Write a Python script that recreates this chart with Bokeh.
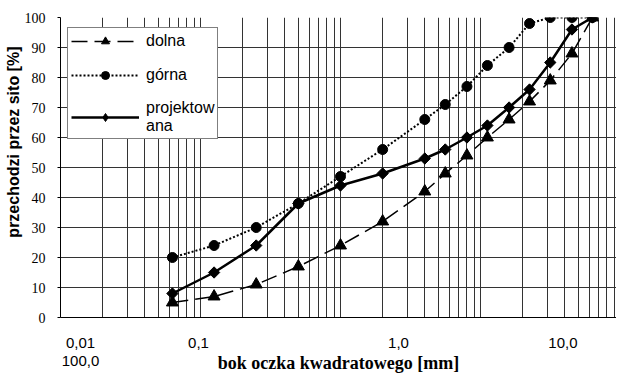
import math
from bokeh.plotting import figure
from bokeh.models import FixedTicker, Legend, LegendItem, Title
from bokeh.embed import file_html
from bokeh.resources import INLINE

# ---- data -------------------------------------------------------------
sieve = [0.063, 0.125, 0.25, 0.5, 1.0, 2.0, 4.0, 5.6, 8.0, 11.2, 16.0, 22.4, 31.5, 45.0, 63.0]
dolna = [5, 7, 11, 17, 24, 32, 42, 48, 54, 60, 66, 72, 79, 88, 100]
gorna = [20, 24, 30, 38, 47, 56, 66, 71, 77, 84, 90, 98, 100, 100, 100]
projektowana = [8, 15, 24, 38, 44, 48, 53, 56, 60, 64, 70, 76, 85, 96, 100]

x_tick_pos = [0.0139, 0.0968, 2.596, 38.8]
x_tick_labels = ["0,01\n100,0", "0,1", "1,0", "10,0"]
y_ticks = [0, 10, 20, 30, 40, 50, 60, 70, 80, 90, 100]

x_title = "bok oczka kwadratowego [mm]"
y_title = "przechodzi przez sito [%]"

# ---- figure -----------------------------------------------------------
p = figure(width=616, height=376, x_axis_type="log", x_range=(0.01, 93.63), y_range=(0, 100),
           output_backend="svg", toolbar_location=None,
           min_border_left=60, min_border_right=0, min_border_top=17, min_border_bottom=59)
p.outline_line_color = None
p.background_fill_color = "white"
p.border_fill_color = "white"

grid_x = [k * 10.0 ** e for e in range(-2, 2) for k in range(1, 10)]
p.xgrid.ticker = FixedTicker(ticks=grid_x)
p.ygrid.ticker = FixedTicker(ticks=y_ticks)
for g in (p.xgrid, p.ygrid):
    g.grid_line_color = "#333333"
    g.grid_line_width = 1
    g.grid_line_alpha = 1

p.xaxis.ticker = FixedTicker(ticks=x_tick_pos)
p.xaxis.major_label_overrides = dict(zip(x_tick_pos, x_tick_labels))
p.xaxis.major_tick_out = 0
p.xaxis.major_tick_in = 0
p.xaxis.minor_tick_line_color = None
p.xaxis.major_label_standoff = 16
p.xaxis.major_label_text_font = "Liberation Sans"
p.xaxis.major_label_text_font_size = "15px"
p.xaxis.major_label_text_line_height = 1.1
p.xaxis.major_label_text_color = "black"
p.xaxis.axis_line_color = "black"
p.xaxis.axis_label = x_title
p.xaxis.axis_label_standoff = -19
p.xaxis.axis_label_text_font = "Liberation Serif"
p.xaxis.axis_label_text_font_size = "18px"
p.xaxis.axis_label_text_line_height = 0.9
p.xaxis.axis_label_text_font_style = "bold"
p.xaxis.axis_label_text_color = "black"

p.yaxis.ticker = FixedTicker(ticks=y_ticks)
p.yaxis.major_tick_out = 3
p.yaxis.major_tick_in = 0
p.yaxis.minor_tick_line_color = None
p.yaxis.major_label_standoff = 12
p.yaxis.major_label_text_font = "Liberation Serif"
p.yaxis.major_label_text_font_size = "14px"
p.yaxis.major_label_text_color = "black"
p.yaxis.axis_line_color = "black"
p.yaxis.major_tick_line_color = "black"

p.add_layout(Title(text=y_title, align="right", offset=29, standoff=0, vertical_align="bottom",
                   text_font="Liberation Sans", text_font_size="16px",
                   text_font_style="bold", text_color="black"), "left")

# ---- series -----------------------------------------------------------
d_line = p.line(sieve, dolna, line_dash="16 7", line_width=1.5, color="black")
d_pts = p.scatter(sieve, dolna, marker="triangle", size=12, color="black")
g_line = p.line(sieve, gorna, line_dash="2 2", line_width=2, color="black")
g_pts = p.scatter(sieve, gorna, marker="circle", size=10, color="black")
p_line = p.line(sieve, projektowana, line_width=2.5, color="black")
p_key = p.scatter(sieve, projektowana, marker="diamond", size=9, color="black")
p_pts = p.scatter(sieve, projektowana, marker="square", angle=math.pi / 4, size=8, color="black")

legend = Legend(items=[
    LegendItem(label="dolna", renderers=[d_line, d_pts]),
    LegendItem(label="górna", renderers=[g_line, g_pts]),
    LegendItem(label="projektow\nana", renderers=[p_line, p_key]),
], location=(7, 178))
legend.border_line_color = "black"
legend.border_line_width = 1
legend.background_fill_color = "white"
legend.background_fill_alpha = 1
legend.padding = 3
legend.spacing = 14
legend.margin = 0
legend.glyph_width = 68
legend.glyph_height = 20
legend.label_height = 20
legend.label_standoff = 7
legend.label_text_font = "Liberation Sans"
legend.label_text_font_size = "16px"
legend.label_text_line_height = 1.3
legend.label_text_color = "black"
p.add_layout(legend)

open("out.html", "w").write(file_html(p, INLINE))
